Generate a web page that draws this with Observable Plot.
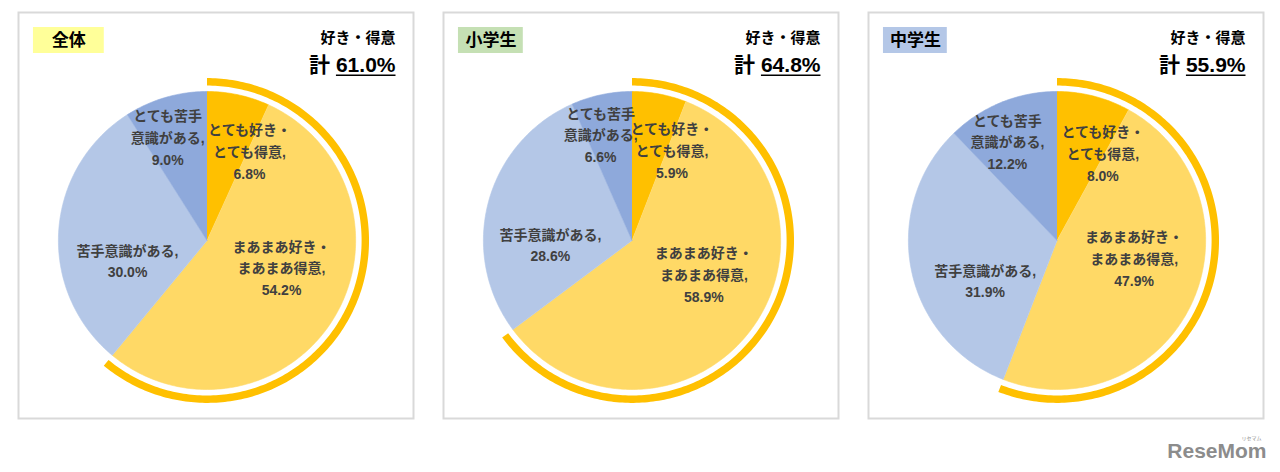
<!DOCTYPE html>
<html><head><meta charset="utf-8">
<script src="https://cdn.jsdelivr.net/npm/d3@7"></script>
<script src="https://cdn.jsdelivr.net/npm/@observablehq/plot@0.6"></script>
<style>
body{margin:0;background:#fff;}
#chart{width:1280px;height:472px;}
</style></head><body><div id="chart"></div>
<script>
// ---------- data ----------
const panels = ["全体", "小学生", "中学生"];
const categories = ["とても好き・\nとても得意", "まあまあ好き・\nまあまあ得意", "苦手意識がある", "とても苦手\n意識がある"];
const valuesAll = [6.8, 54.2, 30.0, 9.0];
const valuesElementary = [5.9, 58.9, 28.6, 6.6];
const valuesJunior = [8.0, 47.9, 31.9, 12.2];
const totals = [61.0, 64.8, 55.9];
const totalLabel = "好き・得意";
const totalPrefix = "計";
const logoText = "ReseMom";
const logoKana = "リセマム";

// ---------- style / layout ----------
const sliceColors = ["#FFC000", "#FFD966", "#B4C7E7", "#8EA9DB"];
const ringColor = "#FFC000";
const tagColors = ["#FFFF99", "#C5E0B4", "#B4C7E7"];
const tagWidths = [71, 65, 64];
const CX = 190, CY = 240, R = 149;          // pie centre inside each panel, radius (px)
const ux = px => (px - CX) / R;
const uy = py => (CY - py) / R;
const RING_IN = 1.04, RING_OUT = 1.09;
// label placement relative to slice mid-angle (deg) and radius (fraction of R)
const labelLayout = [{da: 13, r: 0.67}, {da: -13, r: 0.53}, {da: -17, r: 0.55}, {da: -4.5, r: 0.75}];
const FONT = "'Liberation Sans', 'Noto Sans CJK JP', sans-serif";
const CJK = "'Noto Sans CJK JP', sans-serif";

// ---------- derived geometry ----------
const seriesValues = [valuesAll, valuesElementary, valuesJunior];
const rad = a => a * Math.PI / 180;
const slicePts = [], labels = [], ringPts = [];
panels.forEach((p, pi) => {
  let acc = 0;
  seriesValues[pi].forEach((v, ci) => {
    const a0 = acc / 100 * 360, a1 = (acc + v) / 100 * 360;
    acc += v;
    const cat = categories[ci];
    slicePts.push({panel: p, cat, x: 0, y: 0});
    const n = Math.max(2, Math.ceil(a1 - a0));
    for (let k = 0; k <= n; k++) {
      const a = rad(a0 + (a1 - a0) * k / n);
      slicePts.push({panel: p, cat, x: Math.sin(a), y: Math.cos(a)});
    }
    const lo = labelLayout[ci];
    const m = rad((a0 + a1) / 2 + lo.da);
    labels.push({panel: p, text: cat + ",\n" + v.toFixed(1) + "%", x: lo.r * Math.sin(m), y: lo.r * Math.cos(m)});
  });
  const aT = totals[pi] / 100 * 360;
  const n = Math.ceil(aT);
  for (let k = 0; k <= n; k++) {
    const a = rad(aT * k / n);
    ringPts.push({panel: p, x: RING_OUT * Math.sin(a), y: RING_OUT * Math.cos(a)});
  }
  for (let k = n; k >= 0; k--) {
    const a = rad(aT * k / n);
    ringPts.push({panel: p, x: RING_IN * Math.sin(a), y: RING_IN * Math.cos(a)});
  }
});

const svg = Plot.plot({
  width: 1280, height: 472,
  marginTop: 0, marginBottom: 0, marginLeft: 16, marginRight: 15,
  fx: {domain: panels, paddingInner: 0.0657, paddingOuter: 0, axis: null, label: null},
  x: {domain: [ux(0), ux(398)], axis: null},
  y: {domain: [uy(472), uy(0)], axis: null},
  color: {domain: categories, range: sliceColors},
  style: {fontFamily: FONT, background: "#fff", overflow: "visible"},
  marks: [
    Plot.frame({stroke: "#d9d9d9", strokeWidth: 2, insetTop: 12, insetBottom: 54, insetLeft: 1, insetRight: 1}),
    ...panels.map((p, i) => Plot.rect([p], {
      fx: d => d, x1: () => ux(16), x2: () => ux(16 + tagWidths[i]),
      y1: () => uy(27), y2: () => uy(53), fill: tagColors[i]
    })),
    Plot.text(panels, {
      fx: d => d, x: (d, i) => ux(16 + tagWidths[i] / 2), y: () => uy(40), text: d => d,
      fontSize: 17, fontWeight: "bold", fill: "#000", lineAnchor: "middle", fontFamily: CJK
    }),
    Plot.text(panels, {
      fx: d => d, text: () => totalLabel, frameAnchor: "top-right", dx: -19, dy: 38,
      lineAnchor: "middle", textAnchor: "end", fontSize: 15, fontWeight: "bold", fill: "#000",
      fontFamily: CJK
    }),
    Plot.text(panels, {
      fx: d => d, text: (d, i) => totalPrefix + " " + totals[i].toFixed(1) + "%", frameAnchor: "top-right",
      dx: -19, dy: 65, lineAnchor: "middle", textAnchor: "end", fontSize: 21, fontWeight: "bold", fill: "#000",
      ariaDescription: "total"
    }),
    Plot.line(slicePts, {fx: "panel", x: "x", y: "y", z: "cat", fill: "cat", stroke: "cat", strokeWidth: 0.6, curve: "linear"}),
    Plot.line(ringPts, {fx: "panel", x: "x", y: "y", fill: ringColor, stroke: "none", curve: "linear"}),
    Plot.text(labels, {
      fx: "panel", x: "x", y: "y", text: "text", fontSize: 14, fontWeight: "bold", fill: "#404040",
      lineHeight: 1.55, lineAnchor: "middle", textAnchor: "middle"
    }),
    Plot.text([logoText], {
      fx: () => "中学生", text: d => d, frameAnchor: "bottom-right", dx: 2, dy: -15,
      textAnchor: "end", lineAnchor: "bottom", fontSize: 21, fontWeight: "bold", fill: "#8c8c8c",
      fontFamily: "'Liberation Sans', sans-serif"
    }),
    Plot.text([logoKana], {
      fx: () => "中学生", text: d => d, frameAnchor: "bottom-right", dx: -3, dy: -33,
      textAnchor: "end", lineAnchor: "bottom", fontSize: 5, fill: "#8c8c8c", fontFamily: CJK
    })
  ]
});

document.getElementById("chart").appendChild(svg);

// underline the percentage part of each "計 xx.x%" total
d3.select(svg).selectAll('g[aria-description="total"] text').each(function () {
  const t = this.textContent;
  const sp = t.indexOf(" ");
  const p0 = this.getStartPositionOfChar(sp + 1);
  const p1 = this.getEndPositionOfChar(t.length - 1);
  const line = document.createElementNS("http://www.w3.org/2000/svg", "line");
  line.setAttribute("x1", p0.x);
  line.setAttribute("x2", p1.x);
  line.setAttribute("y1", p0.y + 3);
  line.setAttribute("y2", p0.y + 3);
  line.setAttribute("stroke", "#000");
  line.setAttribute("stroke-width", "1.5");
  const tr = this.getAttribute("transform");
  if (tr) line.setAttribute("transform", tr);
  this.parentNode.appendChild(line);
});
</script>
</body></html>
